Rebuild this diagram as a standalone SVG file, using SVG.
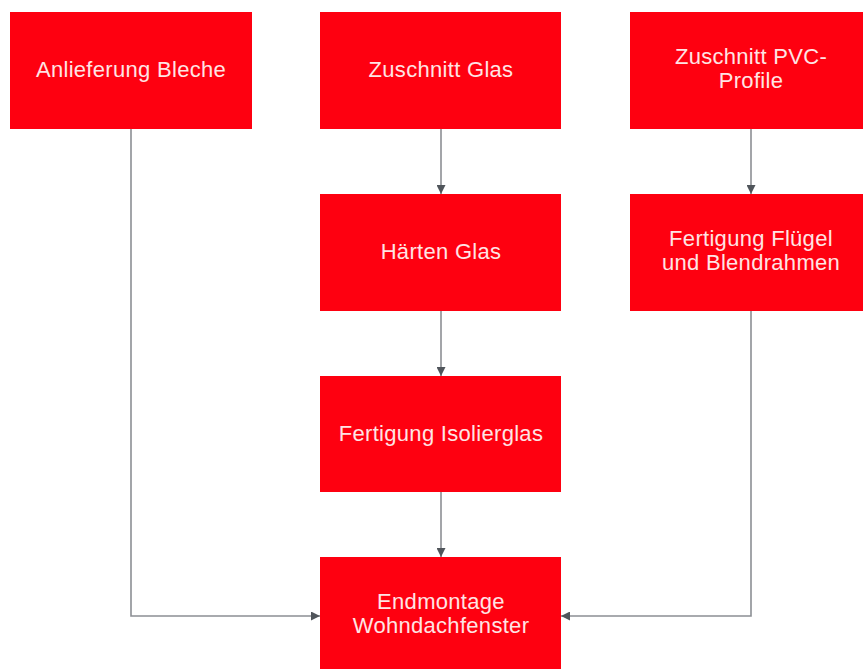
<svg xmlns="http://www.w3.org/2000/svg" width="863" height="669" viewBox="0 0 863 669">
<style>
.box{fill:#fe0010;}
.lbl{font-family:"Liberation Sans",Arial,sans-serif;font-size:22px;letter-spacing:0.3px;fill:#ffe4e4;text-anchor:middle;}
.conn{fill:none;stroke:#8c8f94;stroke-width:1.6;}
</style>
<defs>
<marker id="ah" viewBox="0 0 10 10" refX="10" refY="5" markerWidth="9" markerHeight="9" markerUnits="userSpaceOnUse" orient="auto">
<path d="M0,0 L10,5 L0,10 z" fill="#50555b"/>
</marker>
</defs>
<rect width="863" height="669" fill="#ffffff"/>
<g id="connectors">
<line class="conn" x1="441" y1="129" x2="441" y2="194" marker-end="url(#ah)"/>
<line class="conn" x1="751" y1="129" x2="751" y2="194" marker-end="url(#ah)"/>
<line class="conn" x1="441" y1="311" x2="441" y2="376" marker-end="url(#ah)"/>
<line class="conn" x1="441" y1="492" x2="441" y2="557" marker-end="url(#ah)"/>
<polyline class="conn" points="131,129 131,616 320,616" marker-end="url(#ah)"/>
<polyline class="conn" points="751,311 751,616 561,616" marker-end="url(#ah)"/>
</g>
<g id="n-anlieferung"><rect class="box" x="10" y="12" width="242" height="117"/><text class="lbl" x="131" y="77">Anlieferung Bleche</text></g>
<g id="n-zuschnitt-glas"><rect class="box" x="320" y="12" width="241" height="117"/><text class="lbl" x="441" y="77">Zuschnitt Glas</text></g>
<g id="n-zuschnitt-pvc"><rect class="box" x="630" y="12" width="242" height="117"/><text class="lbl" x="751" y="64">Zuschnitt PVC-</text><text class="lbl" x="751" y="88">Profile</text></g>
<g id="n-haerten"><rect class="box" x="320" y="194" width="241" height="117"/><text class="lbl" x="441" y="259">Härten Glas</text></g>
<g id="n-fluegel"><rect class="box" x="630" y="194" width="242" height="117"/><text class="lbl" x="751" y="246">Fertigung Flügel</text><text class="lbl" x="751" y="270">und Blendrahmen</text></g>
<g id="n-isolierglas"><rect class="box" x="320" y="376" width="241" height="116"/><text class="lbl" x="441" y="441">Fertigung Isolierglas</text></g>
<g id="n-endmontage"><rect class="box" x="320" y="557" width="241" height="117"/><text class="lbl" x="441" y="609">Endmontage</text><text class="lbl" x="441" y="633">Wohndachfenster</text></g>
</svg>
